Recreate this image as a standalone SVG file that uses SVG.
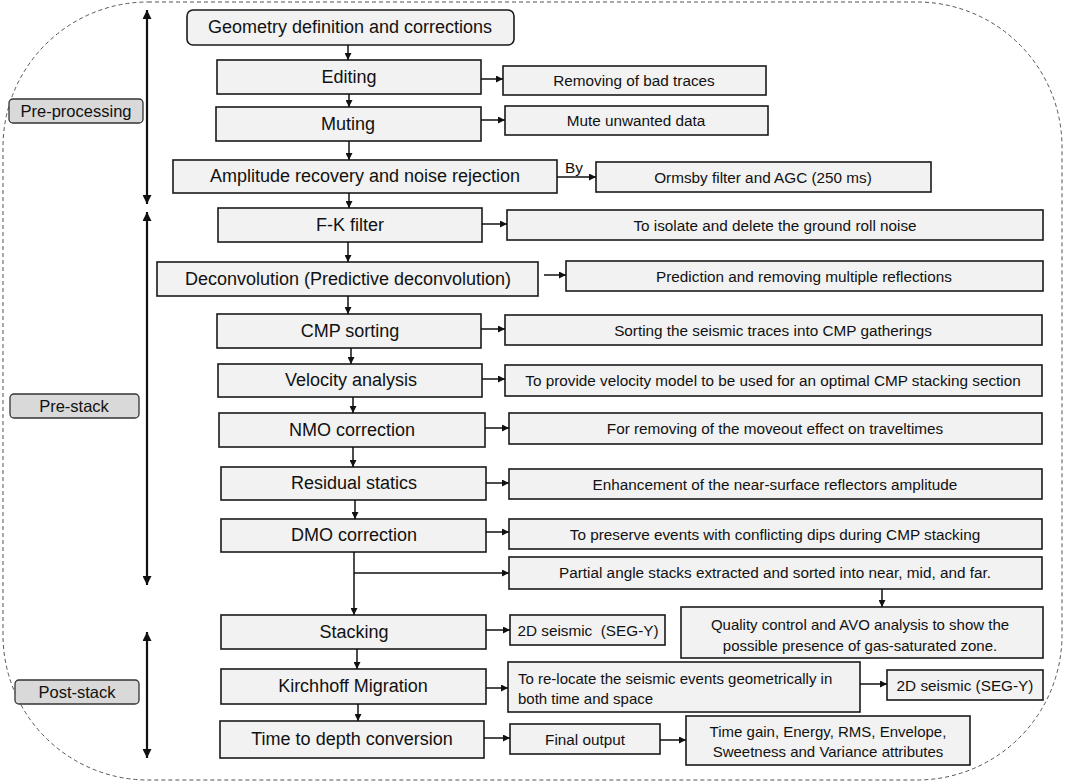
<svg xmlns="http://www.w3.org/2000/svg" width="1065" height="783" viewBox="0 0 1065 783">
<style>
.bx{fill:#f2f2f2;stroke:#1a1a1a;stroke-width:1.6}
.lb{fill:#d9d9d9;stroke:#333;stroke-width:1.3}
.t{font-family:"Liberation Sans",Arial,sans-serif;font-size:18px;fill:#111;text-anchor:middle;dominant-baseline:central}
.s{font-family:"Liberation Sans",Arial,sans-serif;font-size:15.3px;fill:#111;text-anchor:middle;dominant-baseline:central}
.m{font-family:"Liberation Sans",Arial,sans-serif;font-size:15px;fill:#111;text-anchor:middle;dominant-baseline:central}
.l{font-family:"Liberation Sans",Arial,sans-serif;font-size:16.5px;fill:#111;text-anchor:middle;dominant-baseline:central}
.c{fill:none;stroke:#111;stroke-width:1.5}
.d{fill:none;stroke:#111;stroke-width:2.2}
</style>
<defs>
<marker id="ah" viewBox="0 0 10 10" refX="10" refY="5" markerWidth="7" markerHeight="7" markerUnits="userSpaceOnUse" orient="auto"><path d="M0,0 L10,5 L0,10 z" fill="#111"/></marker>
<marker id="dh" viewBox="0 0 10 10" refX="10" refY="5" markerWidth="10" markerHeight="9" markerUnits="userSpaceOnUse" orient="auto-start-reverse"><path d="M0,0 L10,5 L0,10 z" fill="#111"/></marker>
</defs>
<rect x="3" y="2" width="1059" height="778" rx="145" ry="145" fill="none" stroke="#555" stroke-width="1" stroke-dasharray="4,3"/>

<g id="lbl-preprocessing"><rect class="lb" x="9" y="99" width="134" height="24" rx="4"/><text class="l" x="76" y="111">Pre-processing</text></g>
<g id="lbl-prestack"><rect class="lb" x="10" y="394" width="129" height="24" rx="4"/><text class="l" x="74" y="406">Pre-stack</text></g>
<g id="lbl-poststack"><rect class="lb" x="15" y="680" width="124" height="24" rx="4"/><text class="l" x="77" y="692">Post-stack</text></g>

<g id="n-geometry"><rect class="bx" x="187" y="10" width="327" height="35" rx="6"/><text class="t" x="350" y="27">Geometry definition and corrections</text></g>
<g id="n-editing"><rect class="bx" x="217" y="60" width="264" height="34"/><text class="t" x="349" y="77">Editing</text></g>
<g id="n-removing"><rect class="bx" x="503" y="66" width="263" height="29"/><text class="s" x="634" y="80">Removing of bad traces</text></g>
<g id="n-muting"><rect class="bx" x="216" y="107" width="265" height="34"/><text class="t" x="348" y="124">Muting</text></g>
<g id="n-mute"><rect class="bx" x="505" y="106" width="263" height="29"/><text class="s" x="636" y="120">Mute unwanted data</text></g>
<g id="n-amplitude"><rect class="bx" x="173" y="160" width="384" height="33"/><text class="t" x="365" y="176">Amplitude recovery and noise rejection</text></g>
<g id="n-ormsby"><rect class="bx" x="596" y="162" width="335" height="30"/><text class="s" x="763" y="177">Ormsby filter and AGC (250 ms)</text></g>
<g id="n-fk"><rect class="bx" x="218" y="208" width="264" height="34"/><text class="t" x="350" y="225">F-K filter</text></g>
<g id="n-isolate"><rect class="bx" x="507" y="210" width="536" height="30"/><text class="s" x="775" y="225">To isolate and delete the ground roll noise</text></g>
<g id="n-decon"><rect class="bx" x="157" y="262" width="381" height="34"/><text class="t" x="348" y="279">Deconvolution (Predictive deconvolution)</text></g>
<g id="n-prediction"><rect class="bx" x="566" y="261" width="477" height="30"/><text class="s" x="804" y="276">Prediction and removing multiple reflections</text></g>
<g id="n-cmp"><rect class="bx" x="217" y="314" width="264" height="34"/><text class="t" x="350" y="331">CMP sorting</text></g>
<g id="n-sorting"><rect class="bx" x="505" y="315" width="537" height="30"/><text class="s" x="773" y="330">Sorting the seismic traces into CMP gatherings</text></g>
<g id="n-velocity"><rect class="bx" x="218" y="364" width="264" height="33"/><text class="t" x="351" y="380">Velocity analysis</text></g>
<g id="n-provide"><rect class="bx" x="505" y="365" width="537" height="31"/><text class="s" x="773" y="380">To provide velocity model to be used for an optimal CMP stacking section</text></g>
<g id="n-nmo"><rect class="bx" x="219" y="413" width="266" height="34"/><text class="t" x="352" y="430">NMO correction</text></g>
<g id="n-moveout"><rect class="bx" x="509" y="413" width="533" height="31"/><text class="s" x="775" y="428">For removing of the moveout effect on traveltimes</text></g>
<g id="n-residual"><rect class="bx" x="221" y="467" width="265" height="33"/><text class="t" x="354" y="483">Residual statics</text></g>
<g id="n-enhance"><rect class="bx" x="509" y="469" width="533" height="30"/><text class="s" x="775" y="484">Enhancement of the near-surface reflectors amplitude</text></g>
<g id="n-dmo"><rect class="bx" x="221" y="519" width="265" height="33"/><text class="t" x="354" y="535">DMO correction</text></g>
<g id="n-preserve"><rect class="bx" x="509" y="519" width="533" height="30"/><text class="s" x="775" y="534">To preserve events with conflicting dips during CMP stacking</text></g>
<g id="n-partial"><rect class="bx" x="509" y="557" width="533" height="32"/><text class="s" x="775" y="572">Partial angle stacks extracted and sorted into near, mid, and far.</text></g>
<g id="n-quality"><rect class="bx" x="681" y="607" width="362" height="51"/><text class="m" x="860" y="624">Quality control and AVO analysis to show the</text><text class="m" x="860" y="645">possible presence of gas-saturated zone.</text></g>
<g id="n-stacking"><rect class="bx" x="221" y="615" width="265" height="34"/><text class="t" x="354" y="632">Stacking</text></g>
<g id="n-seg1"><rect class="bx" x="510" y="615" width="155" height="30"/><text class="s" x="588" y="630" xml:space="preserve">2D seismic  (SEG-Y)</text></g>
<g id="n-kirchhoff"><rect class="bx" x="221" y="669" width="265" height="35"/><text class="t" x="353" y="686">Kirchhoff Migration</text></g>
<g id="n-relocate"><rect class="bx" x="508" y="662" width="352" height="50"/><text class="m" x="518" y="678" style="text-anchor:start">To re-locate the seismic events geometrically in</text><text class="m" x="518" y="698" style="text-anchor:start">both time and space</text></g>
<g id="n-seg2"><rect class="bx" x="887" y="670" width="156" height="30"/><text class="s" x="965" y="685">2D seismic (SEG-Y)</text></g>
<g id="n-timedepth"><rect class="bx" x="220" y="721" width="264" height="37"/><text class="t" x="352" y="739">Time to depth conversion</text></g>
<g id="n-final"><rect class="bx" x="510" y="724" width="150" height="30"/><text class="s" x="585" y="739">Final output</text></g>
<g id="n-attributes"><rect class="bx" x="686" y="716" width="284" height="49"/><text class="m" x="828" y="731">Time gain, Energy, RMS, Envelope,</text><text class="m" x="828" y="751">Sweetness and Variance attributes</text></g>

<g id="connectors">
<line class="c" x1="348" y1="45" x2="348" y2="60" marker-end="url(#ah)"/>
<line class="c" x1="349" y1="94" x2="349" y2="107" marker-end="url(#ah)"/>
<line class="c" x1="349" y1="141" x2="349" y2="160" marker-end="url(#ah)"/>
<line class="c" x1="349" y1="193" x2="349" y2="208" marker-end="url(#ah)"/>
<line class="c" x1="348" y1="242" x2="348" y2="262" marker-end="url(#ah)"/>
<line class="c" x1="348" y1="296" x2="348" y2="314" marker-end="url(#ah)"/>
<line class="c" x1="351" y1="348" x2="351" y2="364" marker-end="url(#ah)"/>
<line class="c" x1="353" y1="397" x2="353" y2="413" marker-end="url(#ah)"/>
<line class="c" x1="353" y1="447" x2="353" y2="467" marker-end="url(#ah)"/>
<line class="c" x1="355" y1="500" x2="355" y2="519" marker-end="url(#ah)"/>
<line class="c" x1="354" y1="552" x2="354" y2="615" marker-end="url(#ah)"/>
<line class="c" x1="354" y1="573" x2="509" y2="573" marker-end="url(#ah)"/>
<line class="c" x1="357" y1="649" x2="357" y2="669" marker-end="url(#ah)"/>
<line class="c" x1="358" y1="704" x2="358" y2="721" marker-end="url(#ah)"/>
<line class="c" x1="481" y1="79" x2="503" y2="79" marker-end="url(#ah)"/>
<line class="c" x1="481" y1="120" x2="505" y2="120" marker-end="url(#ah)"/>
<line class="c" x1="557" y1="177" x2="596" y2="177" marker-end="url(#ah)"/>
<text class="s" x="574" y="167">By</text>
<line class="c" x1="482" y1="224" x2="507" y2="224" marker-end="url(#ah)"/>
<line class="c" x1="544" y1="275" x2="566" y2="275" marker-end="url(#ah)"/>
<line class="c" x1="481" y1="329" x2="505" y2="329" marker-end="url(#ah)"/>
<line class="c" x1="482" y1="379" x2="505" y2="379" marker-end="url(#ah)"/>
<line class="c" x1="485" y1="428" x2="509" y2="428" marker-end="url(#ah)"/>
<line class="c" x1="486" y1="483" x2="509" y2="483" marker-end="url(#ah)"/>
<line class="c" x1="486" y1="532" x2="509" y2="532" marker-end="url(#ah)"/>
<line class="c" x1="882" y1="589" x2="882" y2="607" marker-end="url(#ah)"/>
<line class="c" x1="486" y1="630" x2="510" y2="630" marker-end="url(#ah)"/>
<line class="c" x1="486" y1="688" x2="508" y2="688" marker-end="url(#ah)"/>
<line class="c" x1="860" y1="684" x2="887" y2="684" marker-end="url(#ah)"/>
<line class="c" x1="484" y1="738" x2="510" y2="738" marker-end="url(#ah)"/>
<line class="c" x1="660" y1="740" x2="686" y2="740" marker-end="url(#ah)"/>
<line class="d" x1="147" y1="10" x2="147" y2="204" marker-start="url(#dh)" marker-end="url(#dh)"/>
<line class="d" x1="147" y1="212" x2="147" y2="585" marker-start="url(#dh)" marker-end="url(#dh)"/>
<line class="d" x1="147" y1="632" x2="147" y2="758" marker-start="url(#dh)" marker-end="url(#dh)"/>
</g>
</svg>
